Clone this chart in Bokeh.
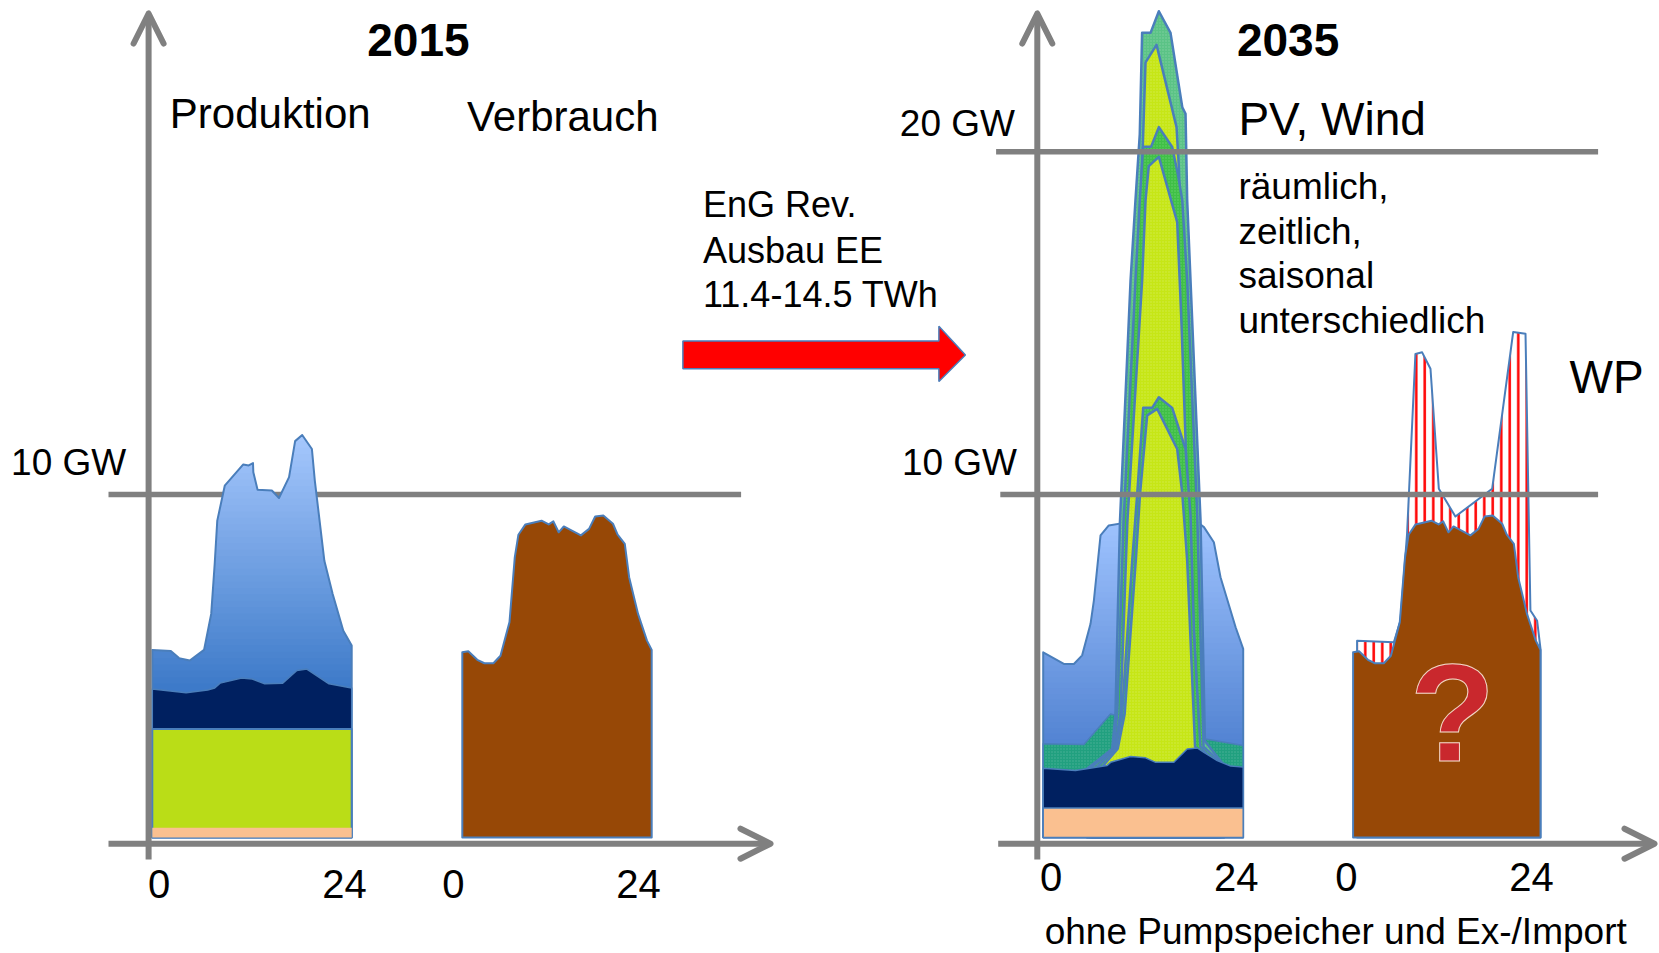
import numpy as np
from bokeh.plotting import figure
from bokeh.models import Range1d, Label, Arrow, OpenHead
from bokeh.embed import file_html
from bokeh.resources import INLINE

# ------------------------------------------------------------------
# DATA  (hours of the day 0..24, power in GW)
# ------------------------------------------------------------------
# 2015 Produktion (stacked tops)
prod15_blue_h = [0, 2.23, 3.22, 4.51, 6.23, 7.09, 7.51, 7.82, 8.72, 10.95, 11.60, 12.12, 12.16,
                 12.67, 14.39, 15.25, 16.46, 17.19, 18.04, 19.21, 19.56, 20.71, 21.71, 22.99, 24]
prod15_blue_gw = [5.47, 5.44, 5.23, 5.16, 5.47, 6.52, 7.98, 9.24, 10.26, 10.88, 10.85, 10.92, 10.65,
                  10.14, 10.12, 9.90, 10.51, 11.56, 11.74, 11.33, 10.41, 8.07, 7.10, 6.03, 5.60]
prod15_navy_h = [0, 4.07, 6.66, 7.51, 8.16, 10.75, 12.03, 13.53, 15.69, 17.40, 18.60, 21.27, 24]
prod15_navy_gw = [4.33, 4.22, 4.30, 4.36, 4.50, 4.65, 4.62, 4.48, 4.50, 4.87, 4.91, 4.48, 4.36]
prod15_green_h = [0, 24]
prod15_green_gw = [3.16, 3.16]
prod15_peach_h = [0, 24]
prod15_peach_gw = [0.28, 0.28]

# Verbrauch (same load curve in 2015 and 2035)
verbrauch_h = [0, 0.76, 1.90, 2.80, 3.94, 4.84, 5.98, 6.65, 7.11, 8.00, 10.04, 10.95, 11.54, 12.21,
               12.86, 15.03, 16.06, 16.84, 17.87, 19.09, 19.68, 20.59, 21.14, 22.27, 23.40, 24.0]
verbrauch_gw = [5.40, 5.43, 5.18, 5.08, 5.08, 5.30, 6.28, 8.17, 8.83, 9.13, 9.24, 9.13, 9.22, 8.90,
                9.07, 8.81, 9.00, 9.36, 9.39, 9.15, 8.83, 8.56, 7.59, 6.52, 5.74, 5.47]

# 2035 Produktion (stacked tops)
prod35_blue_h = [0, 2.48, 3.68, 4.67, 5.68, 6.08, 6.88, 7.87, 10.08, 18.0, 19.29, 20.48, 21.28, 23.09, 24]
prod35_blue_gw = [5.40, 5.06, 5.06, 5.31, 6.23, 6.91, 8.81, 9.10, 9.19, 9.29, 9.05, 8.61, 7.59, 6.13, 5.50]
prod35_teal_h = [0, 4.88, 8.08, 19.49, 24]
prod35_teal_gw = [2.73, 2.71, 3.60, 2.87, 2.68]
prod35_navy_h = [0, 3.87, 7.68, 8.08, 10.48, 12.28, 13.49, 15.68, 17.28, 18.48, 19.29, 20.89, 22.49, 24]
prod35_navy_gw = [2.02, 1.95, 2.10, 2.19, 2.36, 2.32, 2.19, 2.19, 2.58, 2.61, 2.48, 2.24, 2.08, 2.05]
prod35_peach_h = [0, 24]
prod35_peach_gw = [0.86, 0.86]

# PV (three variants), each with its outer band and inner PV area
pv_hi_band_h = [5.27, 8.28, 8.67, 9.21, 10.48, 11.07, 11.59, 11.87, 12.88, 13.88, 15.28, 16.69, 17.08,
                17.28, 17.68, 18.88, 19.40, 21.69]
pv_hi_band_gw = [2.00, 2.58, 3.60, 9.20, 16.23, 18.58, 20.52, 23.47, 23.47, 24.10, 23.47, 21.30, 21.11,
                 18.58, 16.24, 9.24, 2.81, 2.10]
pv_hi_h = [5.90, 8.44, 9.08, 9.71, 11.48, 11.87, 12.28, 13.60, 16.0, 16.28, 16.70, 17.60, 19.09, 20.89]
pv_hi_gw = [2.02, 2.59, 3.61, 9.20, 16.24, 19.55, 22.61, 23.12, 20.72, 19.55, 16.23, 9.83, 2.63, 2.24]
pv_mid_band_h = [5.65, 8.38, 8.89, 9.65, 11.07, 11.59, 11.99, 12.95, 13.88, 15.48, 16.16, 16.69, 17.28,
                 18.48, 19.24, 21.27]
pv_mid_band_gw = [2.01, 2.59, 3.61, 9.24, 16.24, 18.58, 20.15, 20.15, 20.72, 20.14, 19.35, 18.58, 16.24,
                  9.44, 2.65, 2.19]
pv_mid_h = [6.29, 8.57, 9.27, 10.10, 11.87, 12.28, 12.67, 13.88, 16.08, 16.57, 17.33, 18.73, 20.63]
pv_mid_gw = [2.02, 2.59, 3.61, 9.20, 16.24, 18.58, 19.58, 19.85, 17.95, 15.15, 9.85, 2.65, 2.22]
pv_lo_band_h = [6.41, 8.70, 9.46, 10.68, 11.28, 12.0, 13.08, 13.88, 15.48, 17.08, 17.68, 18.10, 18.86, 20.38]
pv_lo_band_gw = [2.03, 2.59, 3.61, 8.07, 10.02, 12.53, 12.53, 12.84, 12.53, 11.33, 9.39, 5.90, 2.65, 2.22]
pv_lo_h = [7.05, 8.95, 9.78, 11.11, 11.62, 12.48, 13.68, 16.08, 16.69, 17.28, 18.22, 20.0]
pv_lo_gw = [2.05, 2.59, 3.61, 8.07, 10.02, 12.31, 12.50, 11.33, 10.02, 8.07, 2.65, 2.22]

# 2035 Verbrauch incl. Waermepumpen (WP)
wp_h = [0.51, 5.22, 6.06, 6.91, 7.98, 8.84, 9.91, 10.98, 13.10, 17.81, 20.50, 22.08, 22.71, 23.57, 24.0]
wp_gw = [5.74, 5.69, 6.32, 8.85, 14.10, 14.15, 13.67, 10.17, 9.36, 10.17, 14.74, 14.69, 6.62, 6.32, 5.50]

gridlines_gw = [10, 20]
tick_labels = ["0", "24"]

# ------------------------------------------------------------------
# LAYOUT / STYLE
# ------------------------------------------------------------------
FONT = "Liberation Sans"
GRAY = "#808080"
OUT = "#4A7EBB"
W, H = 1659, 953
Y0, PXGW = 836.9, 34.28


def gy(page_y):
    return (Y0 - page_y) / PXGW


p = figure(width=W, height=H, x_range=Range1d(0, W), y_range=Range1d(gy(H), gy(0)),
           x_axis_type=None, y_axis_type=None, output_backend="svg", toolbar_location=None,
           min_border=0, outline_line_color=None, background_fill_color="white",
           border_fill_color="white")

PANEL = {"p15": (151.8, 199.4), "v15": (461.8, 189.4), "p35": (1042.7, 200.0), "v35": (1352.6, 187.4)}


def xs_of(panel, hours):
    x0, w = PANEL[panel]
    return [x0 + h * w / 24.0 for h in hours]


def column(panel, hours, gw):
    xs = xs_of(panel, hours)
    return xs + [xs[-1], xs[0]], list(gw) + [0.0, 0.0]


def area(panel, hours, gw, fill, line=OUT, lw=2.0, **kw):
    xs, ys = column(panel, hours, gw)
    p.patch(xs, ys, fill_color=fill, line_color=line, line_width=lw, line_join="round", **kw)


def hex2rgb(c):
    c = c.lstrip("#")
    return [int(c[i:i + 2], 16) for i in (0, 2, 4)]


def mix(c1, c2, t):
    a, b = hex2rgb(c1), hex2rgb(c2)
    return "#%02x%02x%02x" % tuple(int(round(a[i] + (b[i] - a[i]) * t)) for i in range(3))


def clip_half(poly, val, above):
    out = []
    n = len(poly)
    for i in range(n):
        c, pr = poly[i], poly[i - 1]
        cin = c[1] >= val if above else c[1] <= val
        pin = pr[1] >= val if above else pr[1] <= val
        if cin != pin:
            t = (val - pr[1]) / (c[1] - pr[1])
            out.append((pr[0] + t * (c[0] - pr[0]), val))
        if cin:
            out.append(c)
    return out


def gradient_area(panel, hours, gw, c_top, c_bot, y_lo, y_hi, n=40):
    xs, ys = column(panel, hours, gw)
    poly = list(zip(xs, ys))
    edges = np.linspace(y_lo, y_hi, n + 1)
    for i in range(n):
        a = edges[i] if i > 0 else -5.0
        b = edges[i + 1] + 0.04 if i < n - 1 else 60.0
        q = clip_half(poly, a, True)
        if len(q) >= 3:
            q = clip_half(q, b, False)
        if len(q) >= 3:
            col = mix(c_bot, c_top, (i + 0.5) / n)
            p.patch([pt[0] for pt in q], [pt[1] for pt in q], fill_color=col, line_color=None)
    p.patch(xs, ys, fill_alpha=0, line_color=OUT, line_width=2.0, line_join="round")


# ---------------- 2015 ----------------
p.segment(x0=[108], y0=[gridlines_gw[0]], x1=[740.6], y1=[gridlines_gw[0]], line_color=GRAY, line_width=5.5)

gradient_area("p15", prod15_blue_h, prod15_blue_gw, "#A6C8FD", "#3C79C8", 4.3, 11.74)
area("p15", prod15_navy_h, prod15_navy_gw, "#002060", lw=1.5)
area("p15", prod15_green_h, prod15_green_gw, "#BADD17", lw=2.0)
area("p15", prod15_peach_h, prod15_peach_gw, "#FAC090", line=None)

area("v15", verbrauch_h, verbrauch_gw, "#974806", lw=2.0)

# ---------------- 2035 ----------------
gradient_area("p35", prod35_blue_h, prod35_blue_gw, "#A0C4FF", "#5283D2", 2.7, 9.3)
area("p35", prod35_teal_h, prod35_teal_gw, "#21A07F", lw=1.5,
     hatch_pattern=".", hatch_color="white", hatch_alpha=0.18, hatch_scale=3, hatch_weight=0.8)

BAND_HI = "#5BC386"
BAND = "#3FC046"
YEL = "#C6E616"
dots = dict(hatch_pattern=".", hatch_color="white", hatch_alpha=0.22, hatch_scale=3, hatch_weight=0.8)
area("p35", pv_hi_band_h, pv_hi_band_gw, BAND_HI, lw=2.5, **dots)
area("p35", pv_hi_h, pv_hi_gw, YEL, lw=2.5, **dots)
area("p35", pv_mid_band_h, pv_mid_band_gw, BAND, lw=2.5, **dots)
area("p35", pv_mid_h, pv_mid_gw, YEL, lw=2.5, **dots)
area("p35", pv_lo_band_h, pv_lo_band_gw, BAND, lw=2.5, **dots)
area("p35", pv_lo_h, pv_lo_gw, YEL, lw=2.5, **dots)

area("p35", prod35_navy_h, prod35_navy_gw, "#002060", lw=1.5)
area("p35", prod35_peach_h, prod35_peach_gw, "#FAC090", lw=1.5)

area("v35", wp_h, wp_gw, "white", lw=2.0, hatch_pattern="|", hatch_color="#FF0000",
     hatch_scale=8.5, hatch_weight=2.5)
area("v35", verbrauch_h, verbrauch_gw, "#974806", lw=2.0)

p.segment(x0=[999.8, 995.6], y0=gridlines_gw, x1=[1597.6, 1597.6], y1=gridlines_gw,
          line_color=GRAY, line_width=5.5)

# red transition arrow
p.patch([682.4, 938.4, 938.4, 964.9, 938.4, 938.4, 682.4],
        [14.48, 14.48, 14.91, 14.07, 13.30, 13.67, 13.67],
        fill_color="#FF0000", line_color=OUT, line_width=1.5)


# ---------------- axes with arrow heads ----------------
def axis_arrow(x0, y0, x1, y1):
    p.add_layout(Arrow(end=OpenHead(size=30, line_width=6, line_color=GRAY, line_cap="round",
                                    line_join="round"),
                       x_start=x0, y_start=y0, x_end=x1, y_end=y1, line_width=6, line_color=GRAY))


axis_arrow(148.1, gy(859), 148.1, gy(13))
axis_arrow(108, gy(843.2), 770, gy(843.2))
axis_arrow(1036.8, gy(859), 1036.8, gy(13))
axis_arrow(997.7, gy(843.2), 1654, gy(843.2))


# ---------------- texts ----------------
def txt(s, x, y, size, bold=False, align="left", color="black", **kw):
    p.add_layout(Label(x=x, y=gy(y), text=s, text_font=FONT, text_font_size=f"{size}px",
                       text_font_style="bold" if bold else "normal", text_align=align,
                       text_baseline="middle", text_color=color, **kw))


txt("2015", 417.9, 39.7, 46, bold=True, align="center")
txt("2035", 1287.6, 39.7, 46, bold=True, align="center")
txt("Produktion", 169.3, 113.2, 42)
txt("Verbrauch", 466.6, 116.4, 42)
txt("10 GW", 10.6, 462.3, 37)
txt("20 GW", 899.3, 122.7, 37)
txt("10 GW", 901.4, 461.8, 37)
for s, yy in zip(["EnG Rev.", "Ausbau EE", "11.4-14.5 TWh"], [204.2, 249.7, 294.1]):
    txt(s, 702.5, yy, 36)
txt("PV, Wind", 1237.9, 118.5, 46)
for s, yy in zip(["räumlich,", "zeitlich,", "saisonal", "unterschiedlich"], [186.2, 230.6, 275.0, 319.5]):
    txt(s, 1237.9, yy, 37)
txt("WP", 1569, 376.6, 46)
for xx in [(158.7, 343.9), (452.8, 638.0)]:
    for s, x in zip(tick_labels, xx):
        txt(s, x, 883.4, 40, align="center")
for xx in [(1050.6, 1235.7), (1345.8, 1531.0)]:
    for s, x in zip(tick_labels, xx):
        txt(s, x, 876.0, 40, align="center")
txt("ohne Pumpspeicher und Ex-/Import", 1044.2, 931.0, 37)
txt("?", 1452.0, 712.0, 140, bold=True, align="center", color="#C9282D", text_outline_color="#F3D9C9")

open("out.html", "w").write(file_html(p, INLINE))
